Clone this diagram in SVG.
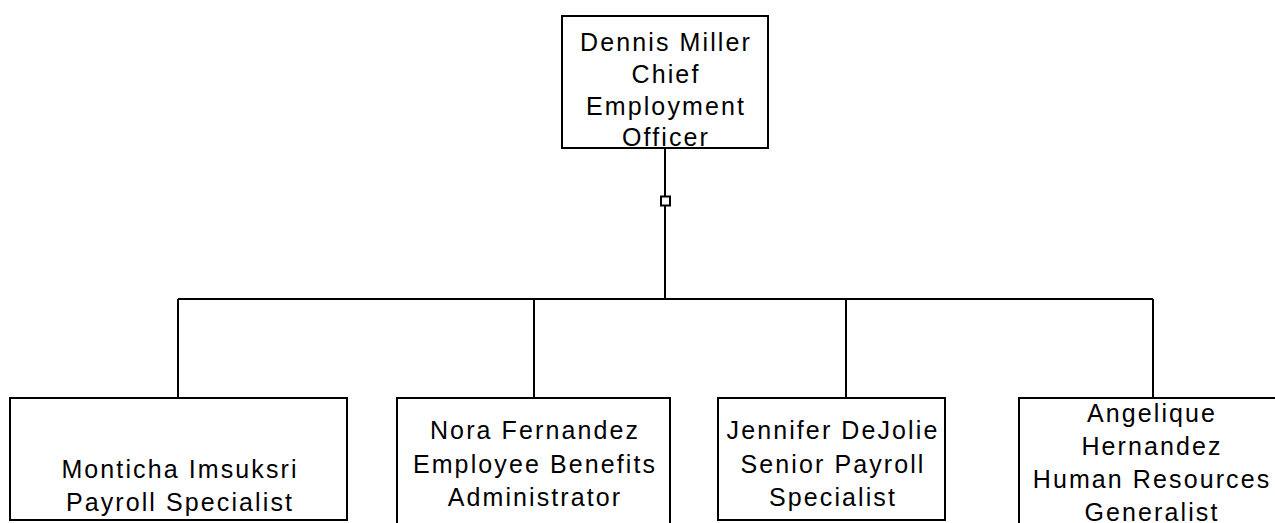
<svg xmlns="http://www.w3.org/2000/svg" width="1275" height="523" viewBox="0 0 1275 523">
<style>
.box{fill:#fff;stroke:#000;stroke-width:2}
.t{font-family:"Liberation Sans",Arial,sans-serif;font-size:25px;fill:#000;text-anchor:middle;letter-spacing:2.1px}
.c{fill:none;stroke:#000;stroke-width:2}
</style>
<rect width="1275" height="523" fill="#fff"/>
<g id="connectors">
<path class="c" d="M665 148V299M178 299H1153M178 299V398M534 299V398M846 299V398M1153 299V398"/>
<rect x="661" y="196.500" width="9" height="9" fill="#fff" stroke="#000" stroke-width="2"/>
</g>
<g id="n0">
<rect class="box" x="562" y="16" width="206" height="132"/>
<text class="t" x="666" y="51">Dennis Miller</text>
<text class="t" x="666" y="83">Chief</text>
<text class="t" x="666" y="115">Employment</text>
<text class="t" x="666" y="146">Officer</text>
</g>
<g id="n1">
<rect class="box" x="10" y="398" width="337" height="122"/>
<text class="t" x="180" y="478">Monticha Imsuksri</text>
<text class="t" x="180" y="511">Payroll Specialist</text>
</g>
<g id="n2">
<rect class="box" x="397" y="398" width="273" height="126"/>
<text class="t" x="535" y="439">Nora Fernandez</text>
<text class="t" x="535" y="473">Employee Benefits</text>
<text class="t" x="535" y="506">Administrator</text>
</g>
<g id="n3">
<rect class="box" x="718" y="398" width="227" height="122"/>
<text class="t" x="833" y="439">Jennifer DeJolie</text>
<text class="t" x="833" y="473">Senior Payroll</text>
<text class="t" x="833" y="506">Specialist</text>
</g>
<g id="n4">
<rect class="box" x="1019" y="398" width="270" height="140"/>
<text class="t" x="1152" y="422">Angelique</text>
<text class="t" x="1152" y="455">Hernandez</text>
<text class="t" x="1152" y="488">Human Resources</text>
<text class="t" x="1152" y="521">Generalist</text>
</g>
</svg>
